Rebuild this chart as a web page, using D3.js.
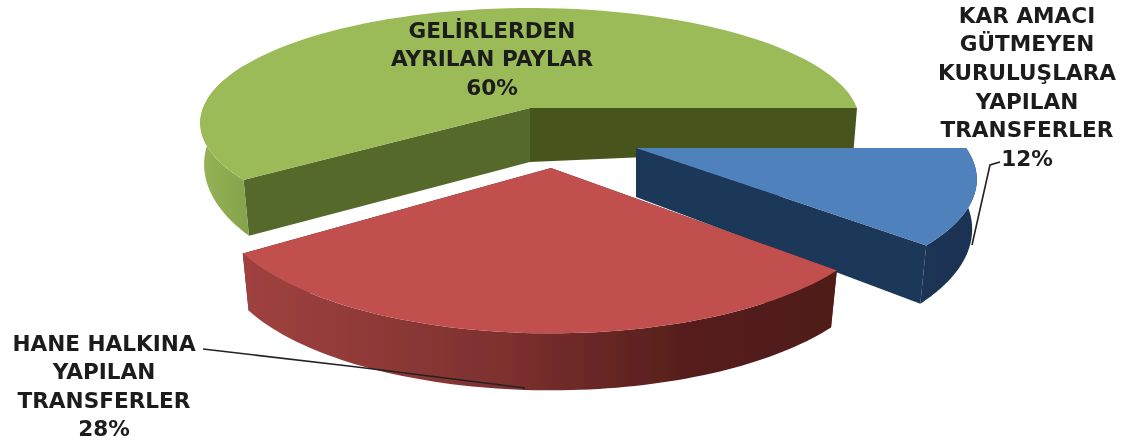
<!DOCTYPE html>
<html>
<head>
<meta charset="utf-8">
<script src="https://cdn.jsdelivr.net/npm/d3@7"></script>
<style>
  html, body { margin: 0; padding: 0; background: #fff; overflow: hidden; }
  text { font-family: "DejaVu Sans", sans-serif; font-weight: 700; fill: #1c1c1c; }
</style>
</head>
<body>
<div id="chart"></div>
<script>
// Chart data, in drawing order of the pie (clockwise from the right side)
var categories = ["KAR AMACI GÜTMEYEN KURULUŞLARA YAPILAN TRANSFERLER", "HANE HALKINA YAPILAN TRANSFERLER", "GELİRLERDEN AYRILAN PAYLAR"];
var values = [12, 28, 60];
var labelLines = [
    ["KAR AMACI", "GÜTMEYEN", "KURULUŞLARA", "YAPILAN", "TRANSFERLER", "12%"],
    ["HANE HALKINA", "YAPILAN", "TRANSFERLER", "28%"],
    ["GELİRLERDEN", "AYRILAN PAYLAR", "60%"]
];

var width = 1126, height = 441;

// Where each exploded slice sits, and how it is foreshortened.
// rim depth changes a bit towards the viewer: rimBase + rimSlope * Y
var slices = [
    {cx: 636, cy: 148, r: 330, b: 118, k: 0.25, depth: 49, rimBase: 48, rimSlope: 15, top: "#4f81bd", cutA: "#1e3759", cutB: "#1e3759", wall: "url(#wallBlue)"},
    {cx: 551, cy: 168, r: 325, b: 124, k: 0.25, depth: 57, rimBase: 57, rimSlope: 0, top: "#c0504d", cutA: "#632523", cutB: "#632523", wall: "url(#wallRed)"},
    {cx: 530, cy: 108, r: 327, b: 113, k: 0.13, depth: 54, rimBase: 40, rimSlope: 27, top: "#9bbb59", cutA: "#556a2c", cutB: "#47551f", wall: "url(#wallGreen)"}
];
var labelPos = [
    {x: 1027, y: 15, step: 28.6},
    {x: 104, y: 343, step: 28.4},
    {x: 492, y: 30, step: 28.5}
];
var leaders = [
    [[1000, 162], [990, 165], [972, 245]],
    [[203, 349], [357, 367], [525, 388]]
];

var svg = d3.select("#chart").append("svg")
        .attr("width", width)
        .attr("height", height);

var defs = svg.append("defs");

// The source is a soft, upscaled image
defs.append("filter").attr("id", "soft")
        .attr("filterUnits", "userSpaceOnUse")
        .attr("x", 0).attr("y", 0).attr("width", width).attr("height", height)
    .append("feGaussianBlur").attr("stdDeviation", 0.7);

function addGradient(id, x1, x2, stops) {
    var g = defs.append("linearGradient").attr("id", id)
            .attr("gradientUnits", "userSpaceOnUse")
            .attr("x1", x1).attr("x2", x2).attr("y1", 0).attr("y2", 0);
    stops.forEach(function(s) {
        g.append("stop").attr("offset", s[0]).attr("stop-color", s[1]);
    });
}
addGradient("wallRed", 240, 838, [[0, "#a04240"], [0.45, "#7c302e"], [0.75, "#561e1c"], [1, "#4f1b19"]]);
addGradient("wallBlue", 640, 985, [[0, "#1e3759"], [1, "#1b3354"]]);
addGradient("wallGreen", 203, 250, [[0, "#94b354"], [1, "#84a24b"]]);

var pie = d3.pie().sort(null)
        .startAngle(Math.PI / 2)
        .endAngle(Math.PI * 2.5);

var line = d3.line();

// Pie angle -> screen point on a tilted disc seen in perspective
function project(s, angle, lower) {
    var X = Math.sin(angle), Y = -Math.cos(angle);
    var p = 1 / (1 - s.k * Y);
    // the lower rim sits slightly further away, so it is a little narrower
    var shrink = lower ? 0.99 - 0.015 * Math.max(Y, 0) : 1;
    var drop = lower ? s.rimBase + s.rimSlope * Y : 0;
    return [s.cx + s.r * shrink * X * p, s.cy + s.b * Y * p + drop];
}

function arcPoints(s, a0, a1, lower) {
    var n = 80;
    return d3.range(n + 1).map(function(i) {
        return project(s, a0 + (a1 - a0) * i / n, lower);
    });
}

var root = svg.append("g").attr("filter", "url(#soft)");

var order = [2, 0, 1];  // back to front
var arcs = pie(values);

order.forEach(function(i) {
    var s = slices[i], a = arcs[i];
    var g = root.append("g").attr("class", "slice");
    var apex = [s.cx, s.cy], apexLow = [s.cx, s.cy + s.depth];

    // Cut faces
    g.append("path")
        .attr("d", line([apex, project(s, a.startAngle, false), project(s, a.startAngle, true), apexLow]) + "Z")
        .attr("fill", s.cutA);
    g.append("path")
        .attr("d", line([apex, project(s, a.endAngle, false), project(s, a.endAngle, true), apexLow]) + "Z")
        .attr("fill", s.cutB);

    // Outer wall: the front part, run on a little past the sides so it tucks under the top
    var a0 = Math.max(a.startAngle, Math.PI / 2), a1 = Math.min(a.endAngle, Math.PI * 1.5 + 0.4);
    var wall = arcPoints(s, a0, a1, false).concat(arcPoints(s, a1, a0, true));
    g.append("path").attr("d", line(wall) + "Z").attr("fill", s.wall);

    // Top face
    g.append("path")
        .attr("d", line([apex].concat(arcPoints(s, a.startAngle, a.endAngle, false))) + "Z")
        .attr("fill", s.top);
});

root.selectAll("path.leader")
    .data(leaders).enter()
    .append("path")
        .attr("class", "leader")
        .attr("d", line)
        .attr("fill", "none")
        .attr("stroke", "#222")
        .attr("stroke-width", 1.6);

labelLines.forEach(function(lines, i) {
    var pos = labelPos[i];
    root.append("text")
        .attr("text-anchor", "middle")
        .attr("font-size", 21.6)
        .selectAll("tspan")
        .data(lines).enter()
        .append("tspan")
            .attr("x", pos.x)
            .attr("y", function(d, j) { return pos.y + j * pos.step; })
            .attr("dy", "0.36em")
            .text(function(d) { return d; });
});
</script>
</body>
</html>
